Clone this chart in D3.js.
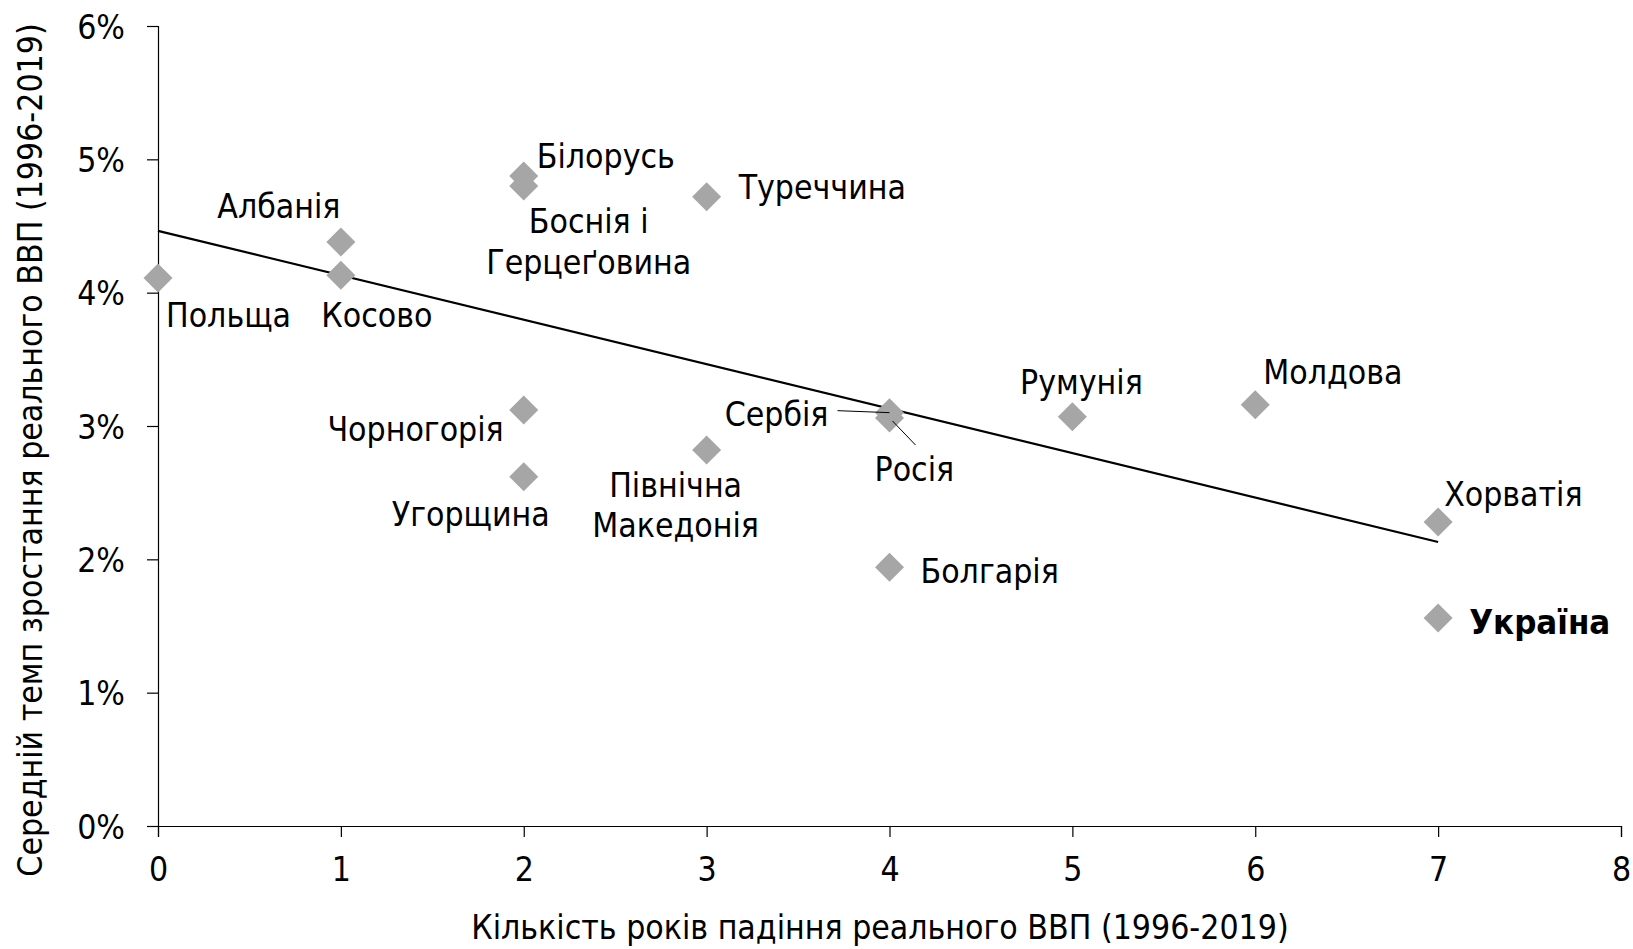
<!DOCTYPE html>
<html>
<head>
<meta charset="utf-8">
<script src="https://cdn.jsdelivr.net/npm/d3@7"></script>
<style>
  html, body { margin: 0; padding: 0; background: #fff; }
  svg { display: block; }
  text { font-family: "DejaVu Sans Condensed", "DejaVu Sans", sans-serif; font-stretch: condensed; fill: #000; }
</style>
</head>
<body>
<svg id="chart" width="1633" height="949"></svg>
<script>
// ---- data ----
const countries = ["Польща", "Албанія", "Косово", "Білорусь", "Боснія і Герцеґовина", "Туреччина",
  "Чорногорія", "Угорщина", "Північна Македонія", "Сербія", "Росія", "Болгарія",
  "Румунія", "Молдова", "Хорватія", "Україна"];
const yearsOfDecline = [0, 1, 1, 2, 2, 3, 2, 2, 3, 4, 4, 4, 5, 6, 7, 7];
const avgGrowth = [0.0411, 0.0438, 0.0413, 0.04875, 0.0480, 0.0472, 0.0312, 0.0262, 0.0282,
  0.0310, 0.0306, 0.0194, 0.0307, 0.0316, 0.0228, 0.0156];
const xTicks = [0, 1, 2, 3, 4, 5, 6, 7, 8];
const yTicks = [0, 0.01, 0.02, 0.03, 0.04, 0.05, 0.06];
const xTitle = "Кількість років падіння реального ВВП (1996-2019)";
const yTitle = "Середній темп зростання реального ВВП (1996-2019)";

// ---- label layout (pixel offsets from the marker) ----
const labelLayout = {
  "Польща": { dx: 8, dy: [49], anchor: "start" },
  "Албанія": { dx: -62, dy: [-24], anchor: "middle" },
  "Косово": { dx: 36, dy: [52], anchor: "middle" },
  "Білорусь": { dx: 13, dy: [-8], anchor: "start" },
  "Боснія і Герцеґовина": { dx: 65, dy: [47, 88], anchor: "middle", lines: ["Боснія і", "Герцеґовина"] },
  "Туреччина": { dx: 32, dy: [2], anchor: "start" },
  "Чорногорія": { dx: -20, dy: [31], anchor: "end" },
  "Угорщина": { dx: 26, dy: [49], anchor: "end" },
  "Північна Македонія": { dx: -31, dy: [47, 87], anchor: "middle", lines: ["Північна", "Македонія"] },
  "Сербія": { dx: -61, dy: [13], anchor: "end", leader: [[-52, -2], [0, 0]] },
  "Росія": { dx: -15, dy: [63], anchor: "start", leader: [[3, 3], [26, 27]] },
  "Болгарія": { dx: 31, dy: [16], anchor: "start" },
  "Румунія": { dx: 9, dy: [-23], anchor: "middle" },
  "Молдова": { dx: 8, dy: [-21], anchor: "start" },
  "Хорватія": { dx: 6, dy: [-16], anchor: "start" },
  "Україна": { dx: 31, dy: [16], anchor: "start", bold: true }
};

const svg = d3.select("#chart");
const x = d3.scaleLinear().domain([0, 8]).range([158, 1621]);
const y = d3.scaleLinear().domain([0, 0.06]).range([826, 26]);
const fontSize = 33.5;

// axes
const yAxis = d3.axisLeft(y).tickValues(yTicks).tickFormat(d3.format(".0%")).tickSizeOuter(0).tickSize(11).tickPadding(22);
const gy = svg.append("g").attr("transform", `translate(${x(0)},0)`).call(yAxis);
const xAxis = d3.axisBottom(x).tickValues(xTicks).tickFormat(d3.format("d")).tickSizeOuter(0).tickSize(11).tickPadding(20);
const gx = svg.append("g").attr("transform", `translate(0,${y(0)})`).call(xAxis);
[gx, gy].forEach(g => {
  g.select(".domain").attr("stroke", "#000").attr("stroke-width", 1.2);
  g.selectAll(".tick line").attr("stroke", "#000").attr("stroke-width", 1.2);
  g.selectAll(".tick text").attr("font-family", null).attr("font-size", fontSize).attr("fill", "#000");
});
gy.selectAll(".tick text").attr("dy", "0.36em");

// regression line
const n = yearsOfDecline.length;
const mx = d3.mean(yearsOfDecline), my = d3.mean(avgGrowth);
let sxy = 0, sxx = 0;
for (let i = 0; i < n; i++) { sxy += (yearsOfDecline[i] - mx) * (avgGrowth[i] - my); sxx += (yearsOfDecline[i] - mx) ** 2; }
const slope = sxy / sxx, intercept = my - slope * mx;
const xr = d3.extent(yearsOfDecline);
svg.append("line")
  .attr("x1", x(xr[0])).attr("y1", y(intercept + slope * xr[0]))
  .attr("x2", x(xr[1])).attr("y2", y(intercept + slope * xr[1]))
  .attr("stroke", "#000").attr("stroke-width", 2.2);

// points
const pts = countries.map((c, i) => ({ name: c, xv: yearsOfDecline[i], yv: avgGrowth[i] }));
const sym = d3.symbol().type(d3.symbolSquare).size(420);
svg.append("g").selectAll("path").data(pts).join("path")
  .attr("d", sym)
  .attr("transform", d => `translate(${x(d.xv)},${y(d.yv)}) rotate(45)`)
  .attr("fill", "#a6a6a6");

// leaders
pts.forEach(d => {
  const L = labelLayout[d.name];
  if (L && L.leader) {
    svg.append("line")
      .attr("x1", x(d.xv) + L.leader[0][0]).attr("y1", y(d.yv) + L.leader[0][1])
      .attr("x2", x(d.xv) + L.leader[1][0]).attr("y2", y(d.yv) + L.leader[1][1])
      .attr("stroke", "#000").attr("stroke-width", 1);
  }
});

// labels
pts.forEach(d => {
  const L = labelLayout[d.name];
  const lines = L.lines || [d.name];
  lines.forEach((t, k) => {
    svg.append("text")
      .attr("x", x(d.xv) + L.dx)
      .attr("y", y(d.yv) + L.dy[k])
      .attr("text-anchor", L.anchor)
      .attr("font-size", L.bold ? 34.5 : fontSize)
      .attr("font-weight", L.bold ? "bold" : "normal")
      .text(t);
  });
});

// titles
svg.append("text").attr("x", 880).attr("y", 939).attr("text-anchor", "middle")
  .attr("font-size", fontSize).text(xTitle);
svg.append("text").attr("transform", "translate(42,450) rotate(-90)").attr("text-anchor", "middle")
  .attr("font-size", fontSize).text(yTitle);
</script>
</body>
</html>
